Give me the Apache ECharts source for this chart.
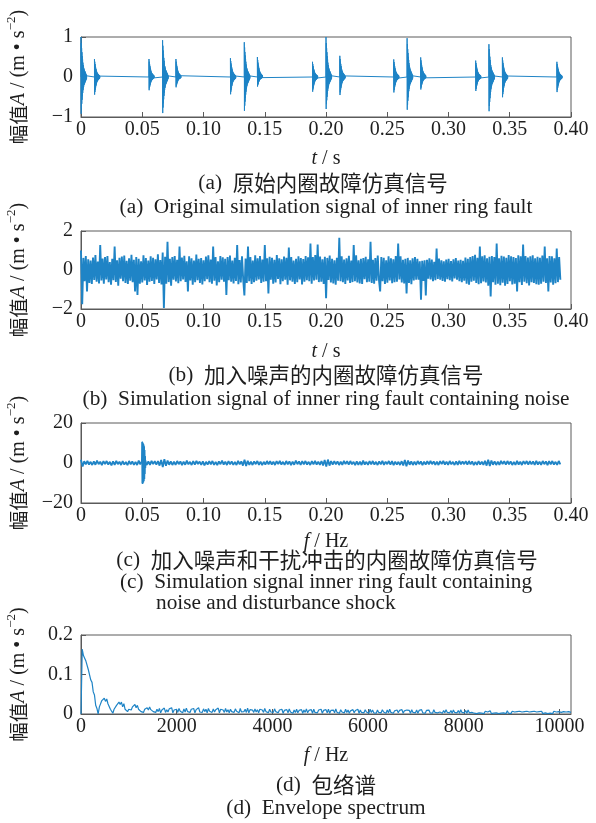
<!DOCTYPE html>
<html><head><meta charset="utf-8">
<script src="https://cdn.jsdelivr.net/npm/echarts@6.0.0/dist/echarts.min.js"></script>
<style>html,body{margin:0;padding:0;background:#fff;}#c{width:596px;height:823px;}</style>
</head><body><div id="c"></div>
<script>
// ---------- Panel (a): impulse bursts of the inner-ring fault signal ----------
const burstTimes = [0, 0.011, 0.0555, 0.0666, 0.0775, 0.122, 0.1333, 0.144, 0.189, 0.2, 0.2113, 0.2553, 0.2662, 0.2773, 0.3222, 0.333, 0.344, 0.3885];
const burstUp    = [1.0, 0.45, 0.45, 0.92, 0.45, 0.47, 0.87, 0.5, 0.38, 1.0, 0.53, 0.44, 0.97, 0.49, 0.41, 0.82, 0.49, 0.38];
const burstDown  = [1.0, 0.48, 0.36, 0.98, 0.28, 0.47, 0.92, 0.26, 0.4, 0.87, 0.49, 0.42, 0.89, 0.34, 0.38, 0.93, 0.55, 0.41];
const burstDecay = [1,.92,.85,.78,.72,.67,.62,.57,.52,.48,.44,.40,.36,.33,.30,.28,.26,.24,.22,.20,.19,.18,.17,.16,.15,.14,.13,.12,.11,.10,.09,.08,.07,.06,.05,.04,.03,.02,.01,0];
const burstStep = 0.00013;
const signalEnd = 0.3913;

// ---------- Panel (b): signal with noise (sampled values) ----------
const noisyB = [
1.0,-1.75,.62,-.58,.71,-1.1,.55,-.66,.48,-.72,.64,-.51,.77,-.6,.43,-.69,1.28,-.54,.59,-.7,
.66,-.49,.72,-.63,.41,-.75,.58,-.52,1.2,-.61,.5,-.8,.63,-.45,.69,-.57,.74,-.66,.47,-.71,
.6,-.55,.78,-.62,.52,-1.1,.67,-1.28,.58,-.7,.44,-.64,.75,-.53,.61,-.77,.49,-.6,.7,-.56,
.63,-.72,.55,-.48,.8,-.66,.51,-.74,.9,-1.95,.68,-.7,1.45,-.62,.57,-.81,.66,-.5,.72,-.59,
.52,-.68,1.2,-.57,.64,-.49,.73,-.61,.45,-1.1,.7,-.54,.6,-.76,.48,-.63,.79,-.52,.58,-.67,
.61,-.74,.5,-.58,.69,-.47,.76,-.63,.54,-.7,1.2,-.55,.67,-.79,.45,-.62,.72,-.5,.65,-.6,
.57,-1.28,.66,-.52,.74,-.6,.48,-.69,.62,-.56,1.28,-.73,.51,-.64,.7,-.47,-1.3,.59,-.66,1.2,
-.58,.66,-.71,.49,-.62,.75,-.55,.6,-.48,.72,-.67,.53,-.6,1.28,-.57,.6,-1.2,.68,-.5,.63,
-.7,.52,-.64,.77,-.46,.6,-.73,.55,-.58,.69,-.5,.62,-.75,1.15,-.53,.66,-.6,.48,-.71,.58,
-.63,.7,-.49,.61,-.74,.56,-.6,.72,-.52,.65,-.58,1.36,-.7,.66,-.54,.77,-.5,1.3,-.62,.69,
-.6,.55,-.72,.68,-1.45,.62,-.51,.74,-.64,.57,-.69,.5,-.76,.63,-.55,1.65,-.58,.7,-.62,.53,
-.71,.6,-.54,.73,-.66,.49,-.62,1.28,-.57,.75,-.64,.5,-.69,.58,-.72,.61,-.47,.68,-.63,.55,
-.6,1.45,-.66,.52,-.7,.61,-.55,.74,-.49,-1.1,.67,-.58,.63,-.72,.5,-.65,.7,-.53,.6,-.68,
.55,-.62,.71,-.6,1.36,-.48,.7,-.64,.52,-.69,.57,-1.2,.62,-.66,.5,-.73,.6,-.54,.67,-.5,
.58,-.5,.45,-1.53,.47,-.56,.5,-1.3,.52,-.45,.6,-.48,.54,-.57,.42,-.52,1.1,-.46,.59,-.5,
.5,-.56,.44,-.6,.53,-.47,.58,-.52,.46,-.59,.55,-.43,.61,-.5,.48,-.57,.52,-.62,.47,-.55,
.64,-.7,.58,-.75,.67,-.6,.72,-.55,.78,-.66,.62,-.73,1.2,-.68,.7,-.59,.76,-.64,.6,-.8,
.68,-1.36,.72,-.62,.66,-.75,1.36,-.7,.6,-.78,.73,-.65,.69,-.8,.62,-.72,.77,-.58,.7,-.74,
.66,-.7,.61,-1.1,.75,-.63,.7,-.77,1.3,-.6,.72,-.68,.64,-.79,.7,-.62,.76,-.66,.6,-.73,
.68,-.75,.62,-.7,.74,-.6,1.2,-.66,.6,-1.1,.72,-.64,.7,-.76,.6,-.68,1.1,-.62,.66,-.5
];

// ---------- Panel (c): noise + disturbance shock ----------
const noisyC = [
1.6,-1.8,.9,-.7,1.1,-.8,.6,-1.0,.8,-.9,1.2,-.6,.7,-1.1,.9,-.5,1.0,-.8,.6,-1.2,
.8,-.9,1.1,-.6,.7,-1.0,.9,-.8,.5,-1.1,1.0,-.7,.8,-.9,.6,-1.0,1.2,-.7,.9,-.6,
.7,-1.0,.8,-.9,1.1,-.6,.9,-.8,1.0,-1.3,1.5,-2.0,1.9,-1.4,1.2,-.9,.8,-1.0,.7,-.9,
1.0,-.6,.8,-1.1,.7,-.9,1.2,-.7,.6,-1.0,.9,-.8,1.1,-.5,.7,-.9,.8,-1.2,.6,-.8,
.9,-.7,1.0,-.9,.6,-1.1,.8,-.6,1.2,-.8,.7,-1.0,.9,-.7,.8,-.9,.6,-1.0,1.1,-.7,
.8,-1.3,1.6,-1.5,1.1,-.9,.7,-1.0,.8,-.6,1.0,-.9,.7,-1.1,.6,-.8,1.0,-.7,.9,-.8,
.7,-1.0,.9,-.6,1.1,-.8,.6,-.9,1.0,-.7,.8,-1.1,.7,-.9,1.2,-.6,.8,-1.0,.9,-.7,
1.0,-.8,.6,-1.0,.9,-.7,1.1,-.8,.7,-.9,1.0,-1.2,1.5,-1.8,1.7,-1.3,1.0,-.8,.9,-.7,
.8,-1.0,.7,-.9,1.1,-.6,.9,-.8,1.0,-.7,.6,-1.1,.8,-.9,.7,-1.0,1.2,-.8,.6,-.9,
.9,-.7,1.0,-.8,.6,-1.0,.8,-.7,1.1,-.9,.7,-.6,1.0,-.8,.9,-1.1,.7,-.8,.6,-1.0,
.9,-1.2,1.5,-1.6,1.2,-.9,.8,-1.0,.7,-.9,1.0,-.6,.8,-1.1,.7,-.8,.9,-.7,1.0,-.6,
.8,-.9,.7,-1.0,.9,-.6,1.1,-.8,.7,-.9,1.0,-.7,.6,-1.0,.8,-.9,1.1,-.7,.8,-.6,
.9,-.8,1.0,-.7,.8,-1.1,.6,-.9,1.0,-.8,.7,-.9,1.1,-1.3,1.6,-1.5,1.2,-.9,.8,-1.0,
.7,-.9,1.1,-.6,.9,-.8,1.0,-.7,.8,-1.0,.6,-.9,1.1,-.8,.7,-1.0,.9,-.6,1.0,-.8,
.9,-.7,.8,-1.0,1.1,-.8,.7,-.9,1.0,-.6,.8,-1.1,.9,-.7,1.0,-.8,.6,-.9,1.0,-.7
];
const shockStart = 0.0495;
const shockStep = 0.0002;
const shockC = [0,10.5,-10.2,10.8,-10.5,10.3,-10.1,9.8,-9.6,9.2,-9.0,8.4,-8.0,6.5,-5.5,3.5,-2.5,1.2,-.8,0];

// ---------- Panel (d): envelope spectrum ----------
const freqStep = 25.6;
const envD = [
0,.164,.148,.150,.134,.132,.112,.108,.086,.080,.056,.048,.022,.014,.000,.018,.020,.034,.030,.040,
.032,.038,.026,.028,.012,.014,.002,.012,.010,.022,.018,.030,.024,.030,.018,.026,.012,.014,.006,.012,
.014,.010,.018,.014,.024,.016,.022,.012,.016,.006,.010,.004,.012,.008,.016,.010,.018,.011,.015,.006,
.010,.004,.012,.006,.014,.003,.010,.007,.015,.004,.011,.005,.013,.008,.016,.003,.010,.006,.012,.004,
.014,.007,.011,.003,.013,.005,.015,.006,.010,.004,.012,.008,.014,.003,.011,.006,.016,.005,.010,.004,
.013,.006,.012,.003,.014,.007,.010,.004,.013,.005,.011,.006,.015,.003,.012,.007,.010,.004,.014,.005,
.011,.003,.012,.006,.010,.004,.013,.007,.011,.003,.014,.005,.010,.006,.012,.004,.015,.003,.011,.006,
.010,.004,.013,.005,.011,.003,.012,.007,.010,.004,.014,.006,.011,.003,.012,.005,.010,.004,.013,.006,
.011,.003,.010,.005,.012,.002,.009,.004,.011,.003,.013,.005,.008,.002,.010,.004,.012,.003,.009,.005,
.011,.002,.010,.004,.013,.003,.009,.005,.011,.002,.012,.004,.008,.003,.010,.005,.012,.002,.009,.004,
.011,.003,.012,.002,.009,.005,.010,.003,.013,.004,.008,.002,.011,.005,.009,.003,.012,.004,.010,.002,
.008,.004,.011,.003,.009,.005,.012,.002,.010,.004,.008,.003,.011,.005,.009,.002,.012,.004,.010,.003,
.008,.002,.010,.004,.009,.003,.011,.005,.008,.002,.010,.003,.012,.004,.009,.002,.008,.005,.010,.003,
.009,.004,.011,.002,.008,.003,.010,.005,.009,.002,.011,.004,.008,.003,.010,.002,.009,.004,.011,.003,
.008,.002,.009,.004,.010,.003,.008,.002,.011,.004,.009,.003,.008,.005,.010,.002,.009,.003,.011,.004,
.008,.003,.009,.002,.010,.004,.008,.003,.009,.002,.011,.004,.008,.003,.009,.002,.010,.003,.008,.004,
.009,.002,.007,.001,.006,.003,.008,.002,.006,.001,.007,.003,.005,.002,.008,.001,.006,.002,.007,.003,
.005,.001,.006,.002,.007,.003,.005,.001,.008,.002,.006,.001,.007,.003,.005,.002,.006,.001,.007,.002,
.005,.003,.006,.001,.007,.002,.005,.001,.006,.003,.007,.002,.005,.001,.006,.002,.007,.001,.005,.003,
.006,.001,.006,.002,.005,.001,.007,.002,.005,.001,.006,.005,.004,.002,.006,.001,.005,.002,.006,.001,
.004
];

// ---------- Axis ticks ----------
const timeTicks = {min: 0, max: 0.4, interval: 0.05};
const freqTicks = {min: 0, max: 10240, interval: 2000};
const yTicksA = {min: -1, max: 1, interval: 1};
const yTicksB = {min: -2, max: 2, interval: 2};
const yTicksC = {min: -20, max: 20, interval: 20};
const yTicksD = {min: 0, max: 0.2, interval: 0.1};

// ---------- build series data ----------
const aData = [[0, 0]];
burstTimes.forEach((t0, j) => {
  aData.push([t0, 0]);
  burstDecay.forEach((m, k) => {
    aData.push([t0 + k * burstStep, (k % 2 === 0 ? burstUp[j] : -burstDown[j]) * m]);
  });
});
aData.push([signalEnd, 0]);
const onGrid = (vals, end) => vals.map((v, i) => [i * end / (vals.length - 1), v]);
const bData = onGrid(noisyB, signalEnd);
const cData = onGrid(noisyC, signalEnd);
const cShock = shockC.map((v, k) => [shockStart + k * shockStep, v]);
const dData = envD.map((v, i) => [i * freqStep, v]);

// ---------- styling ----------
const BLUE = '#1f84c6';
const GRAY = '#5a5a5a';
const TXT = '#1e1e1e';
const SERIF = 'Liberation Serif';
const CJK = 'Noto Sans CJK SC';
const richName = {
  cn: {fontFamily: CJK, fontSize: 19.5, color: TXT, lineHeight: 28},
  it: {fontFamily: SERIF, fontStyle: 'italic', fontSize: 20, color: TXT, lineHeight: 28},
  rm: {fontFamily: SERIF, fontSize: 20, color: TXT, lineHeight: 28},
  sup: {fontFamily: SERIF, fontSize: 13, color: TXT, lineHeight: 13, verticalAlign: 'top'}
};
const yName = '{cn|幅值}{it|A}{rm| / (m • s}{sup|−2}{rm|)}';

const grids = [
  {left: 81, top: 37, width: 490, height: 80},
  {left: 81, top: 231, width: 490, height: 78},
  {left: 81, top: 423, width: 490, height: 80},
  {left: 81, top: 635, width: 490, height: 79}
].map(g => Object.assign(g, {show: true, borderColor: GRAY, borderWidth: 1, containLabel: false, outerBoundsMode: 'none'}));

function timeFmt(v) { return v === 0 ? '0' : v.toFixed(2); }
function xAxis(i, ticks, fmt, name, gap, showMax) {
  return Object.assign({type: 'value', gridIndex: i,
    axisLine: {show: true, onZero: false, lineStyle: {color: GRAY, width: 1}},
    axisTick: {show: true, inside: true, length: 5, lineStyle: {color: GRAY}},
    splitLine: {show: false},
    axisLabel: {formatter: fmt, color: TXT, fontFamily: SERIF, fontSize: 20, margin: 3, showMinLabel: true, showMaxLabel: showMax},
    name: name, nameLocation: 'middle', nameGap: gap,
    nameTextStyle: {color: TXT, rich: richName}
  }, ticks);
}
function yAxis(i, ticks, fmt) {
  return Object.assign({type: 'value', gridIndex: i,
    axisLine: {show: true, onZero: false, lineStyle: {color: GRAY, width: 1}},
    axisTick: {show: true, inside: true, length: 5, lineStyle: {color: GRAY}},
    splitLine: {show: false},
    axisLabel: {formatter: fmt, color: TXT, fontFamily: SERIF, fontSize: 20, margin: 8, showMinLabel: true, showMaxLabel: true},
    name: yName, nameLocation: 'middle', nameRotate: 90, nameGap: 48,
    nameTextStyle: {color: TXT, rich: richName}
  }, ticks);
}
const intFmt = v => String(v).replace('-', '−');

function line(i, data, w) {
  return {type: 'line', xAxisIndex: i, yAxisIndex: i, data: data, showSymbol: false, symbol: 'none',
    lineStyle: {color: BLUE, width: w, join: 'bevel'}, itemStyle: {color: BLUE}, animation: false, silent: true, clip: true};
}

// caption texts
const capA_cn = '原始内圈故障仿真信号';
const capA_en = '(a)  Original simulation signal of inner ring fault';
const capB_cn = '加入噪声的内圈故障仿真信号';
const capB_en = '(b)  Simulation signal of inner ring fault containing noise';
const capC_cn = '加入噪声和干扰冲击的内圈故障仿真信号';
const capC_en1 = '(c)  Simulation signal inner ring fault containing';
const capC_en2 = 'noise and disturbance shock';
const capD_cn = '包络谱';
const capD_en = '(d)  Envelope spectrum';

function caption(y, text, x, align) {
  return {type: 'text', x: x || 326, y: y, silent: true,
    style: {text: text, textAlign: align || 'center', textVerticalAlign: 'middle', fill: TXT,
      fontFamily: SERIF, fontSize: 21.3,
      rich: {rm: {fontFamily: SERIF, fontSize: 21.3, fill: TXT},
             cn: {fontFamily: CJK, fontSize: 21.5, fill: TXT}}}};
}

const option = {
  animation: false,
  backgroundColor: '#fff',
  grid: grids,
  xAxis: [
    xAxis(0, timeTicks, timeFmt, '{it|t}{rm| / s}', 28, true),
    xAxis(1, timeTicks, timeFmt, '{it|t}{rm| / s}', 29, true),
    xAxis(2, timeTicks, timeFmt, '{it|f}{rm| / Hz}', 25, true),
    xAxis(3, freqTicks, v => String(v), '{it|f}{rm| / Hz}', 28, false)
  ],
  yAxis: [
    yAxis(0, yTicksA, intFmt),
    yAxis(1, yTicksB, intFmt),
    yAxis(2, yTicksC, intFmt),
    yAxis(3, yTicksD, v => v === 0 ? '0' : v.toFixed(1))
  ],
  series: [line(0, aData, 1), line(1, bData, 1.9), line(2, cData, 1.8), line(2, cShock, 1.3), line(3, dData, 1.2)],
  graphic: [
    caption(183, '{rm|(a)}  {cn|' + capA_cn + '}', 323),
    caption(207, capA_en),
    caption(375, '{rm|(b)}  {cn|' + capB_cn + '}'),
    caption(399, capB_en),
    caption(560, '{rm|(c)}  {cn|' + capC_cn + '}', 327),
    caption(582, capC_en1),
    caption(603, capC_en2, 156, 'left'),
    caption(785, '{rm|(d)}  {cn|' + capD_cn + '}'),
    caption(808, capD_en)
  ]
};
const chart = echarts.init(document.getElementById('c'), null, {renderer: 'canvas'});
chart.setOption(option);
</script></body></html>
